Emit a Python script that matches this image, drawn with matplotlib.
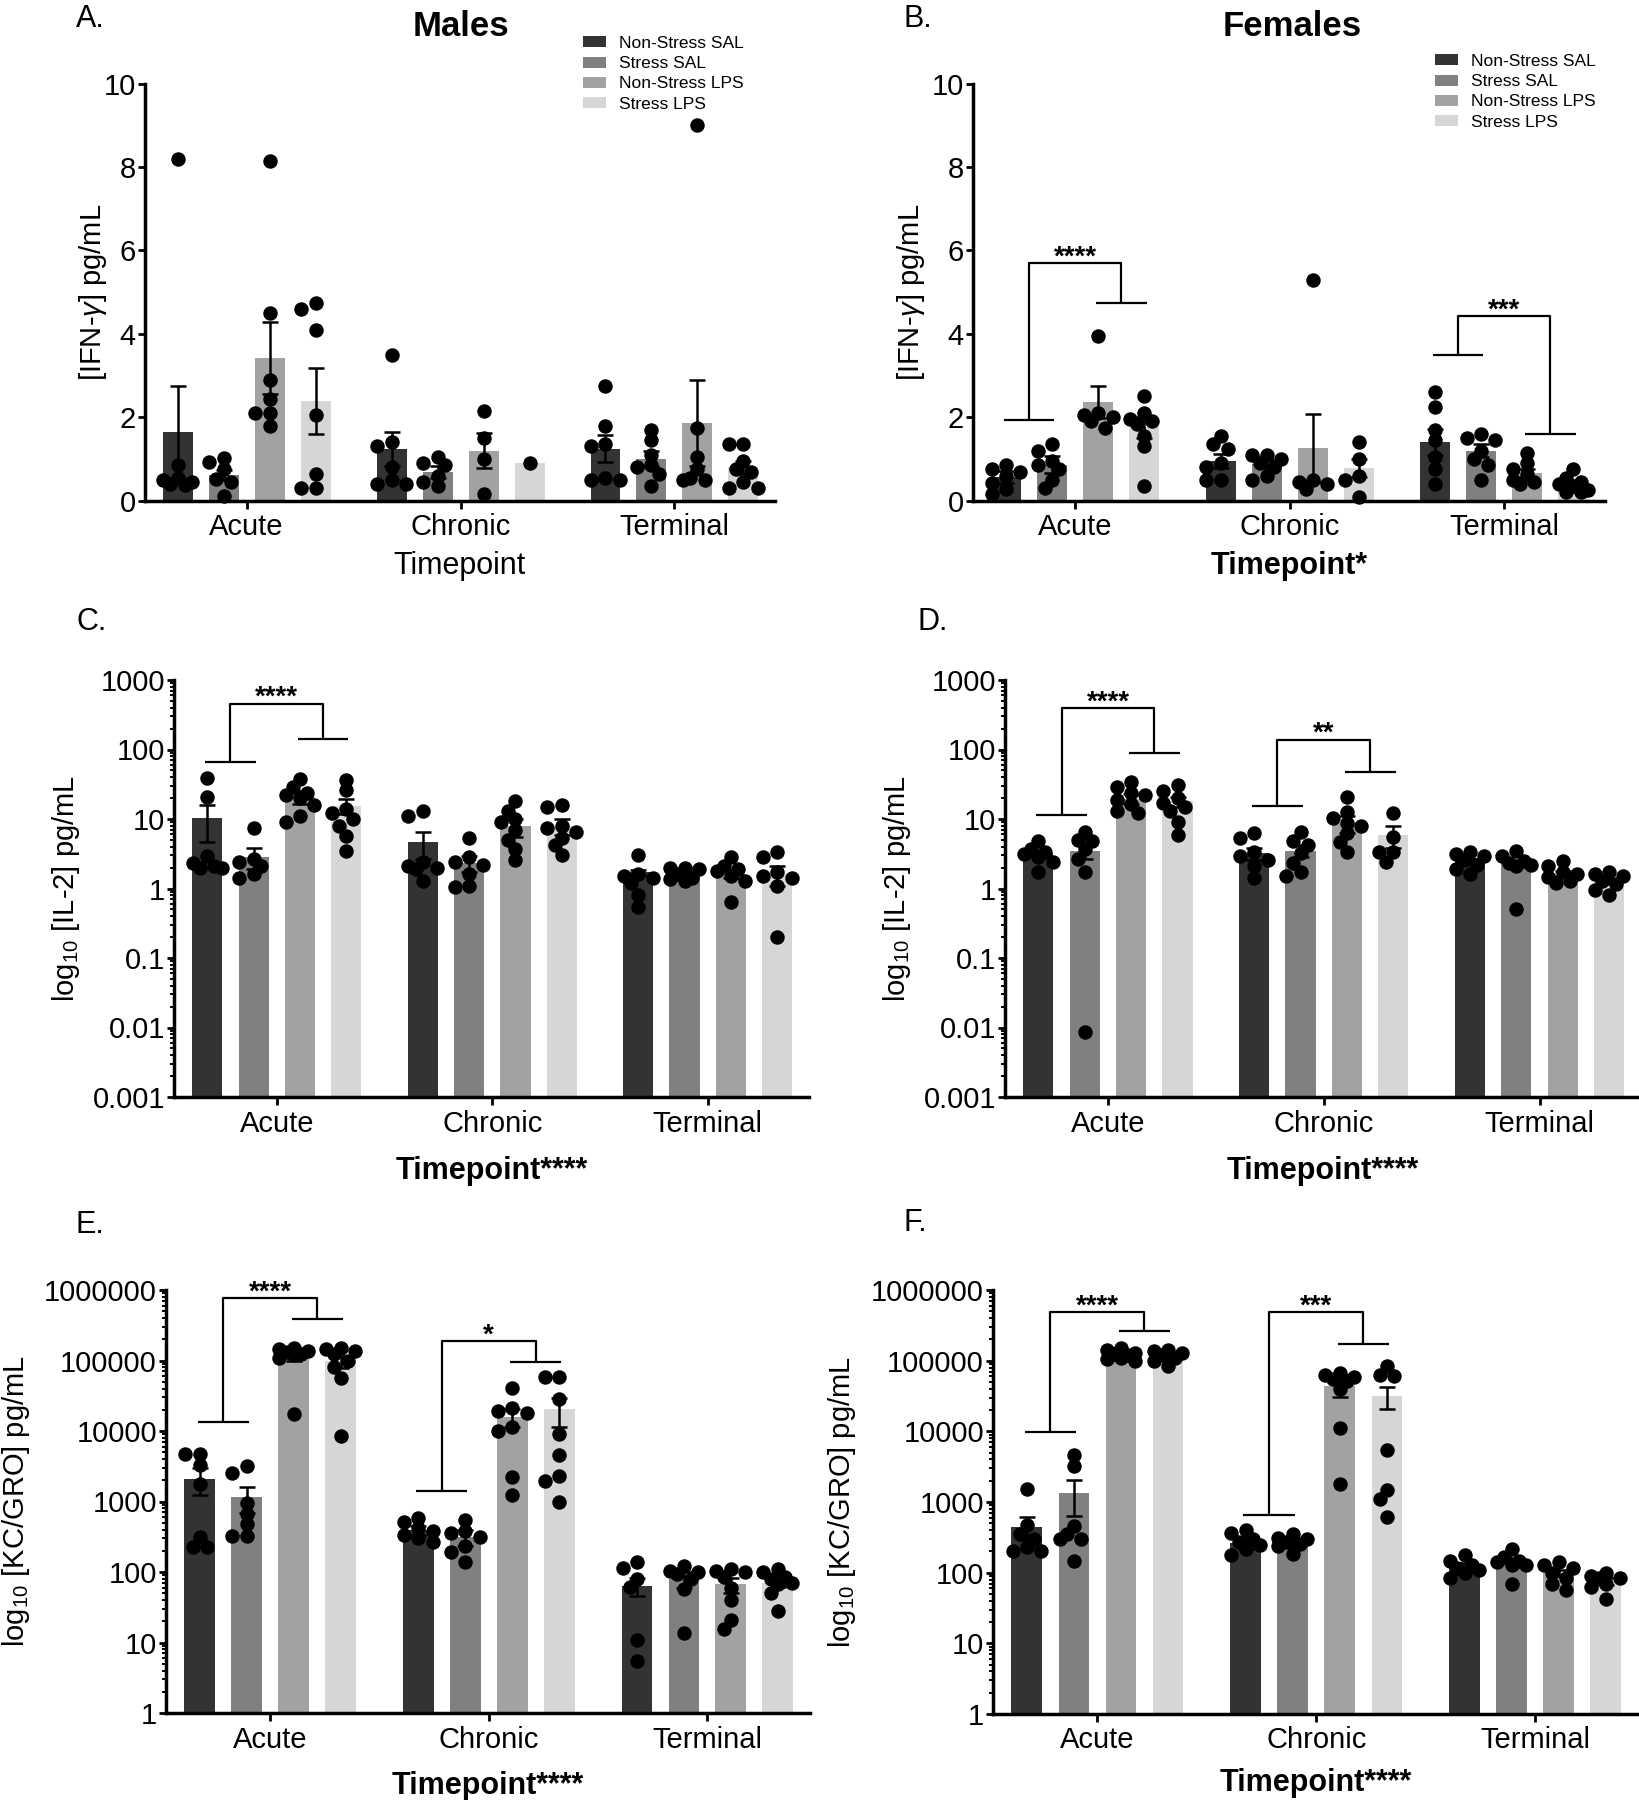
import numpy as np
import matplotlib
matplotlib.use("Agg")
from matplotlib import pyplot as plt
from matplotlib.patches import Patch
from matplotlib.ticker import LogLocator, NullFormatter

plt.rcParams["font.family"] = ["Liberation Sans", "DejaVu Sans"]
plt.rcParams["mathtext.fontset"] = "custom"
plt.rcParams["mathtext.rm"] = "Liberation Sans"
plt.rcParams["mathtext.it"] = "Liberation Sans:italic"

W, H = 1639, 1800

TIMEPOINTS = ["Acute", "Chronic", "Terminal"]
GROUPS = ["Non-Stress SAL", "Stress SAL", "Non-Stress LPS", "Stress LPS"]
COLORS = ["#333333", "#808080", "#a2a2a2", "#d6d6d6"]

IFN_TICKS = [0, 2, 4, 6, 8, 10]
IFN_LABELS = ["0", "2", "4", "6", "8", "10"]
IL2_TICKS = [0.001, 0.01, 0.1, 1, 10, 100, 1000]
IL2_LABELS = ["0.001", "0.01", "0.1", "1", "10", "100", "1000"]
KC_TICKS = [1, 10, 100, 1000, 10000, 100000, 1000000]
KC_LABELS = ["1", "10", "100", "1000", "10000", "100000", "1000000"]

# order of the 12 bars: Acute x4 groups, Chronic x4, Terminal x4
# A. IFN-gamma, males
ifn_male_mean = [1.65, 0.62, 3.42, 2.39, 1.24, 0.69, 1.2, 0.9, 1.25, 1.0, 1.87, 0.8]
ifn_male_sem = [1.1, 0.12, 0.86, 0.78, 0.4, 0.15, 0.42, 0.0, 0.32, 0.18, 1.03, 0.15]
ifn_male_pts = [
    [8.2, 0.85, 0.55, 0.5, 0.45, 0.4, 0.38],
    [1.03, 0.93, 0.75, 0.52, 0.45, 0.12],
    [8.15, 4.5, 2.9, 2.45, 2.1, 2.1, 1.8],
    [4.75, 4.6, 4.1, 2.05, 0.65, 0.3, 0.3],
    [3.5, 1.4, 1.3, 0.8, 0.5, 0.4, 0.4],
    [1.05, 0.9, 0.85, 0.6, 0.45, 0.35],
    [2.15, 1.5, 1.0, 0.15],
    [0.9],
    [2.75, 1.8, 1.35, 1.3, 0.5, 0.5, 0.55],
    [1.7, 1.45, 1.1, 0.85, 0.8, 0.65, 0.35],
    [9.0, 1.75, 1.05, 0.75, 0.55, 0.5, 0.5],
    [1.35, 1.35, 0.95, 0.75, 0.7, 0.45, 0.3, 0.3],
]

# B. IFN-gamma, females
ifn_female_mean = [0.57, 0.86, 2.37, 1.76, 0.95, 0.88, 1.27, 0.79, 1.4, 1.2, 0.67, 0.42]
ifn_female_sem = [0.15, 0.2, 0.38, 0.25, 0.16, 0.09, 0.82, 0.22, 0.31, 0.15, 0.1, 0.08]
ifn_female_pts = [
    [0.86, 0.76, 0.7, 0.6, 0.42, 0.29, 0.15],
    [1.35, 1.2, 0.95, 0.85, 0.75, 0.5, 0.3],
    [3.95, 2.1, 2.05, 2.0, 1.9, 1.75],
    [2.5, 2.1, 1.95, 1.9, 1.85, 1.55, 1.3, 0.35],
    [1.55, 1.35, 1.25, 0.9, 0.8, 0.5, 0.5],
    [1.1, 1.1, 1.0, 0.9, 0.8, 0.6, 0.5],
    [5.3, 0.5, 0.45, 0.4, 0.28],
    [1.4, 1.0, 0.6, 0.5, 0.1],
    [2.6, 2.25, 1.7, 1.45, 1.05, 0.75, 0.4],
    [1.6, 1.5, 1.45, 1.2, 1.0, 0.85, 0.5],
    [1.15, 0.9, 0.75, 0.65, 0.5, 0.45, 0.4],
    [0.75, 0.55, 0.45, 0.4, 0.35, 0.25, 0.2, 0.2],
]
ifn_female_sig = [(0, 1.93, 5.7, 4.74, "****"), (2, 3.5, 4.43, 1.6, "***")]

# C. IL-2, males
il2_male_mean = [10.2, 2.85, 20.7, 15.6, 4.6, 2.3, 7.8, 7.9, 1.7, 1.6, 1.6, 1.6]
il2_male_sem = [5.6, 0.95, 4.2, 3.9, 1.9, 0.6, 2.2, 2.1, 0.15, 0.12, 0.2, 0.5]
il2_male_pts = [
    [39, 21, 2.9, 2.3, 2.1, 2.0, 2.0],
    [7.5, 2.7, 2.4, 2.1, 1.6, 1.4],
    [38, 29, 24, 22, 20, 16, 11, 9],
    [37, 26, 14, 12, 10, 8, 5.7, 3.5],
    [13, 11, 2.4, 2.1, 2.0, 1.9, 1.3],
    [5.3, 2.8, 2.4, 2.2, 1.6, 1.1, 1.05],
    [18, 13, 10, 9, 7, 5, 3.7, 2.6],
    [16, 15, 8, 7.5, 6.5, 5.4, 4.2, 3.0],
    [3.0, 1.6, 1.5, 1.4, 1.2, 0.8, 0.55],
    [2.0, 1.95, 1.9, 1.6, 1.4, 1.35, 1.3],
    [2.8, 2.1, 1.9, 1.8, 1.5, 1.3, 0.65],
    [3.4, 2.8, 1.7, 1.5, 1.4, 1.1, 0.2],
]
il2_male_sig = [(0, 67, 457, 143, "****")]

# D. IL-2, females
il2_female_mean = [3.2, 3.5, 19.7, 17.9, 3.2, 3.5, 8.7, 5.8, 2.45, 2.3, 1.65, 1.25]
il2_female_sem = [0.3, 0.8, 3.5, 2.8, 0.6, 0.7, 2.4, 2.0, 0.25, 0.2, 0.15, 0.1]
il2_female_pts = [
    [4.8, 3.7, 3.3, 3.1, 2.8, 2.4, 1.75],
    [6.5, 5.0, 4.8, 3.7, 2.7, 1.7, 0.0085],
    [34, 29, 24, 22, 19, 16.5, 13, 12],
    [31, 25, 20, 17, 15, 13, 9, 5.8],
    [6.2, 5.4, 3.3, 2.9, 2.6, 2.1, 1.4],
    [6.5, 4.8, 4.2, 3.2, 2.3, 1.7, 1.5],
    [21, 12.8, 10.4, 8.8, 7.8, 6.2, 4.7, 3.3],
    [12, 5.6, 3.3, 3.3, 2.4],
    [3.3, 3.1, 2.9, 2.6, 2.2, 1.9, 1.6],
    [3.5, 2.9, 2.5, 2.3, 2.2, 2.1, 0.5],
    [2.5, 2.1, 1.7, 1.6, 1.45, 1.3, 1.2],
    [1.7, 1.6, 1.5, 1.3, 1.15, 0.95, 0.8],
]
il2_female_sig = [(0, 11.4, 391, 90, "****"), (1, 15.4, 139, 47, "**")]

# E. KC/GRO, males
kc_male_mean = [2100, 1150, 110000, 97000, 390, 315, 16000, 20500, 64, 80, 67, 70]
kc_male_sem = [850, 470, 12000, 18000, 60, 85, 4500, 9000, 19, 20, 16, 9]
kc_male_pts = [
    [4700, 4700, 3300, 1770, 310, 228, 228],
    [3150, 2500, 950, 675, 480, 320, 320],
    [150000, 145000, 135000, 130000, 125000, 120000, 110000, 17500],
    [150000, 145000, 135000, 125000, 100000, 80000, 57000, 8500],
    [590, 520, 420, 380, 340, 300, 270],
    [550, 380, 355, 310, 230, 190, 137],
    [41000, 21000, 19000, 18000, 11500, 10000, 2200, 1250],
    [59000, 59000, 28800, 9200, 4600, 2300, 1950, 1000],
    [138, 115, 80, 62, 10.7, 5.4],
    [122, 105, 100, 95, 80, 57, 13.5],
    [110, 105, 100, 85, 60, 40, 21, 15.5],
    [112, 100, 85, 80, 70, 68, 51, 28],
]
kc_male_sig = [(0, 13600, 760000, 382000, "****"), (1, 1430, 188000, 95000, "*")]

# F. KC/GRO, females
kc_female_mean = [450, 1330, 115000, 110000, 260, 255, 44000, 31500, 123, 148, 100, 75]
kc_female_sem = [160, 700, 6000, 8000, 45, 25, 13000, 11000, 14, 13, 10, 9]
kc_female_pts = [
    [1550, 480, 350, 295, 230, 200, 200],
    [4700, 3200, 460, 350, 300, 300, 148],
    [150000, 140000, 130000, 125000, 120000, 110000, 105000, 100000],
    [140000, 135000, 130000, 120000, 110000, 100000, 85000],
    [400, 360, 300, 270, 245, 215, 175],
    [350, 310, 295, 275, 255, 240, 185],
    [66000, 63000, 59000, 55000, 52000, 40000, 11000, 1800],
    [83000, 62000, 60000, 5500, 1500, 1100, 620],
    [178, 148, 130, 115, 108, 100, 84],
    [215, 165, 148, 140, 130, 130, 70],
    [140, 130, 115, 100, 85, 70, 56],
    [100, 90, 85, 85, 70, 62, 42],
]
kc_female_sig = [(0, 9800, 490000, 263000, "****"), (1, 650, 490000, 170000, "***")]

OFFSETS = (np.arange(4) - 1.5) * 0.215
BAR_W = 0.14
DOT_PX = 13


def px_rect(l, r, t, b):
    return [l / W, 1 - b / H, (r - l) / W, (b - t) / H]


def spread(ax, x0, vals):
    # beeswarm-ish horizontal offsets, kept inside roughly one bar width
    xy = ax.transData.transform(np.column_stack([np.full(len(vals), x0), vals]))
    placed = []
    out = []
    for y in xy[:, 1]:
        best, best_d = 0.0, -1
        for k in [0, -1, 1, -2, 2]:
            dx = k * DOT_PX * 0.55
            d = min([np.hypot(dx - px, y - py) for px, py in placed], default=1e9)
            if d >= DOT_PX * 0.8:
                best = dx
                break
            if d > best_d:
                best, best_d = dx, d
        placed.append((best, y))
        out.append(best)
    a = ax.transData.transform([(0, vals[0]), (1, vals[0])])
    return x0 + np.array(out) / (a[1][0] - a[0][0])


def bracket(ax, g, low_left, top, low_right, label):
    c = g + OFFSETS
    lm = (c[0] + c[1]) / 2
    rm = (c[2] + c[3]) / 2
    kw = dict(color="black", lw=1.6, clip_on=False, solid_capstyle="butt")
    ax.plot([c[0] - 0.01, c[1] + 0.01], [low_left, low_left], **kw)
    ax.plot([lm, lm, rm, rm], [low_left, top, top, low_right], **kw)
    ax.plot([c[2] - 0.01, c[3] + 0.01], [low_right, low_right], **kw)
    ax.annotate(label, ((lm + rm) / 2, top), xytext=(0, -1), textcoords="offset points",
                ha="center", va="baseline", fontsize=20, fontweight="bold")


def panel(fig, rect, mean, sem, pts, ylim, ticks, ticklabels, log, ylabel, ylab_x,
          xlabel, xlab_y, bold_x, sig=()):
    ax = fig.add_axes(rect)
    ax.set_xlim(-0.477, 2.47)
    if log:
        ax.set_yscale("log")
    ax.set_ylim(*ylim)

    xs = np.array([g + o for g in range(3) for o in OFFSETS])
    bottom = ylim[0] if log else 0
    ax.bar(xs, np.array(mean) - bottom, bottom=bottom, width=BAR_W,
           color=COLORS * 3, zorder=1)
    sem = np.array(sem)
    keep = sem > 0
    ax.errorbar(xs[keep], np.array(mean)[keep], yerr=sem[keep], fmt="none", ecolor="black",
                elinewidth=1.8, capsize=5.5, capthick=1.8, zorder=4, clip_on=False)
    for x0, v in zip(xs, pts):
        v = sorted(v, reverse=True)
        ax.plot(spread(ax, x0, v), v, "o", color="black", markersize=9.4,
                zorder=3, clip_on=False)

    for s in sig:
        bracket(ax, *s)

    for side in ["top", "right"]:
        ax.spines[side].set_visible(False)
    for side in ["left", "bottom"]:
        ax.spines[side].set_linewidth(2.5)

    ax.set_xticks(range(3), TIMEPOINTS)
    ax.set_yticks(ticks, ticklabels)
    ax.tick_params(axis="x", length=6, width=2, pad=3, labelsize=21)
    ax.tick_params(axis="y", which="major", length=5, width=2, pad=1.5, labelsize=21)
    if log:
        ax.yaxis.set_minor_locator(LogLocator(base=10, subs=np.arange(2, 10), numticks=20))
        ax.yaxis.set_minor_formatter(NullFormatter())
        ax.tick_params(axis="y", which="minor", length=3, width=1.4)
    else:
        ax.minorticks_off()

    ax.set_ylabel(ylabel, fontsize=21)
    ax.yaxis.set_label_coords(ylab_x, 0.5)
    ax.set_xlabel(xlabel, fontsize=22, fontweight="bold" if bold_x else "normal")
    ax.xaxis.set_label_coords(0.5, xlab_y)
    return ax


def main():
    fig = plt.figure(figsize=(W / 100, H / 100), dpi=100)

    ifn_lab = r"[IFN-$\gamma$] pg/mL"
    il2_lab = r"log$_{10}$ [IL-2] pg/mL"
    kc_lab = r"log$_{10}$ [KC/GRO] pg/mL"

    ax_a = panel(fig, px_rect(144.6, 775, 83.6, 500.7), ifn_male_mean, ifn_male_sem,
                 ifn_male_pts, (0, 10), IFN_TICKS, IFN_LABELS, False, ifn_lab, -0.056,
                 "Timepoint", -0.121, False)
    ax_b = panel(fig, px_rect(973, 1605, 83.6, 500.7), ifn_female_mean, ifn_female_sem,
                 ifn_female_pts, (0, 10), IFN_TICKS, IFN_LABELS, False, ifn_lab, -0.073,
                 "Timepoint*", -0.121, True, ifn_female_sig)
    panel(fig, px_rect(174, 809, 680, 1097), il2_male_mean, il2_male_sem, il2_male_pts,
          (0.001, 1000), IL2_TICKS, IL2_LABELS, True, il2_lab, -0.145,
          "Timepoint****", -0.142, True, il2_male_sig)
    panel(fig, px_rect(1005, 1641, 680, 1097), il2_female_mean, il2_female_sem,
          il2_female_pts, (0.001, 1000), IL2_TICKS, IL2_LABELS, True, il2_lab, -0.145,
          "Timepoint****", -0.142, True, il2_female_sig)
    panel(fig, px_rect(166, 810, 1290, 1713), kc_male_mean, kc_male_sem, kc_male_pts,
          (1, 1000000), KC_TICKS, KC_LABELS, True, kc_lab, -0.208,
          "Timepoint****", -0.137, True, kc_male_sig)
    panel(fig, px_rect(993, 1638, 1290, 1714), kc_female_mean, kc_female_sem,
          kc_female_pts, (1, 1000000), KC_TICKS, KC_LABELS, True, kc_lab, -0.209,
          "Timepoint****", -0.128, True, kc_female_sig)

    handles = [Patch(facecolor=c, edgecolor="none") for c in COLORS]
    leg_kw = dict(loc="upper left", bbox_transform=fig.transFigure, frameon=False,
                  fontsize=12.5, handlelength=1.32, handleheight=0.6, handletextpad=0.75,
                  labelspacing=0.3, borderpad=0, borderaxespad=0)
    ax_a.legend(handles, GROUPS, bbox_to_anchor=(583 / W, 1 - 36 / H), **leg_kw)
    ax_b.legend(handles, GROUPS, bbox_to_anchor=(1435 / W, 1 - 54 / H), **leg_kw)

    fig.text(461 / W, 1 - 27 / H, "Males", ha="center", va="center", fontsize=25,
             fontweight="bold")
    fig.text(1292 / W, 1 - 27 / H, "Females", ha="center", va="center", fontsize=25,
             fontweight="bold")

    for lab, x, y in [("A.", 76, 19), ("B.", 904, 19), ("C.", 77, 622),
                      ("D.", 917, 622), ("E.", 76, 1225), ("F.", 904, 1223)]:
        fig.text(x / W, 1 - y / H, lab, ha="left", va="center", fontsize=22)

    fig.savefig("out.png", dpi=100)


if __name__ == "__main__":
    main()
